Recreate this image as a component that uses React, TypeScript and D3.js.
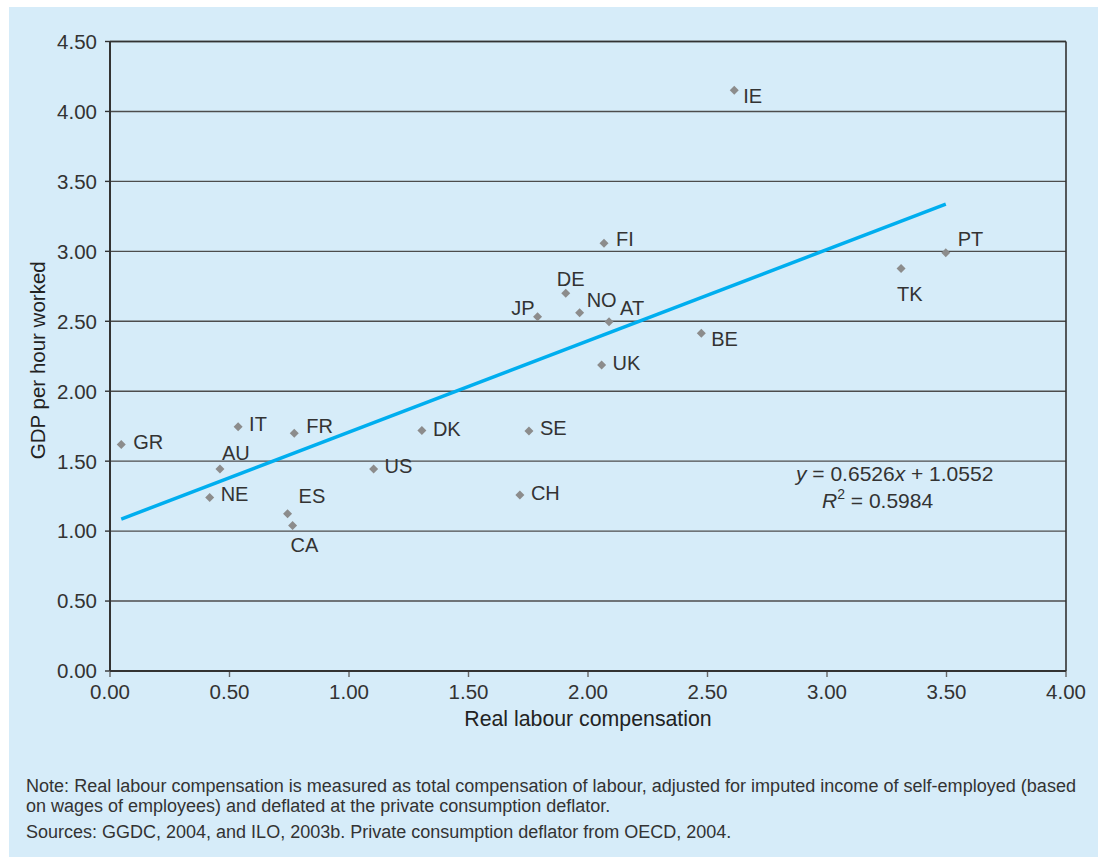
import React from "react";
import * as d3 from "d3";

const countries = ["GR", "IT", "FR", "AU", "NE", "ES", "CA", "US", "DK", "SE", "CH", "JP", "DE", "NO", "AT", "FI", "UK", "BE", "IE", "PT", "TK"];
const labourComp = [0.047, 0.536, 0.771, 0.46, 0.417, 0.743, 0.764, 1.103, 1.305, 1.753, 1.715, 1.789, 1.907, 1.965, 2.088, 2.067, 2.057, 2.474, 2.612, 3.497, 3.31];
const gdpPerHour = [1.62, 1.746, 1.699, 1.444, 1.241, 1.124, 1.041, 1.444, 1.72, 1.715, 1.258, 2.533, 2.7, 2.561, 2.497, 3.057, 2.187, 2.414, 4.151, 2.99, 2.878];
const xTicks = [0, 0.5, 1, 1.5, 2, 2.5, 3, 3.5, 4];
const yTicks = [0, 0.5, 1, 1.5, 2, 2.5, 3, 3.5, 4, 4.5];
const slope = 0.6526;
const intercept = 1.0552;

// label placement (dx, dy, anchor) relative to marker
const labelPlacement: Record<string, [number, number, string]> = {
  GR: [12, -3, "start"], IT: [11, -3, "start"], FR: [12, -8, "start"], AU: [2, -16, "start"],
  NE: [11, -4, "start"], ES: [11, -18, "start"], CA: [-2, 19, "start"], US: [11, -3, "start"],
  DK: [11, -2, "start"], SE: [11, -3, "start"], CH: [11, -2, "start"], JP: [-3, -9, "end"],
  DE: [-9, -15, "start"], NO: [7, -13, "start"], AT: [11, -14, "start"], FI: [12, -5, "start"],
  UK: [11, -2, "start"], BE: [10, 5, "start"], IE: [9, 5, "start"], PT: [12, -14, "start"],
  TK: [-4, 25, "start"],
};

const W = 1098, H = 857;
const FONT = "'Liberation Sans', Arial, Helvetica, sans-serif";

export default function App() {
  const x = d3.scaleLinear().domain([0, 4]).range([110, 1066]);
  const y = d3.scaleLinear().domain([0, 4.5]).range([671, 41.5]);
  const xmin = d3.min(labourComp) as number;
  const xmax = d3.max(labourComp) as number;
  const line = d3.line<number>().x((d) => x(d)).y((d) => y(slope * d + intercept));
  const diamond = (cx: number, cy: number, r: number) => `M${cx},${cy - r}L${cx + r},${cy}L${cx},${cy + r}L${cx - r},${cy}Z`;
  const fmt = d3.format(".2f");
  const textCol = "#333";

  return (
    <svg width={W} height={H} style={{ position: "absolute", left: 0, top: 0 }} fontFamily={FONT}>
      <rect x={9} y={7} width={W - 9} height={H - 7} fill="#d6ecf9" />
      {/* grid lines */}
      {yTicks.map((t) => (
        <g key={"y" + t}>
          <line x1={x(0)} x2={x(4)} y1={y(t)} y2={y(t)} stroke="#4d4d4d" strokeWidth={1.4} />
          <line x1={x(0) - 5} x2={x(0)} y1={y(t)} y2={y(t)} stroke="#333" strokeWidth={1.4} />
          <text x={97} y={y(t)} dy="0.36em" textAnchor="end" fontSize={20.5} fill={textCol}>{fmt(t)}</text>
        </g>
      ))}
      {xTicks.map((t) => (
        <g key={"x" + t}>
          <line x1={x(t)} x2={x(t)} y1={y(0)} y2={y(0) + 6} stroke="#666" strokeWidth={1.4} />
          <text x={x(t)} y={699} textAnchor="middle" fontSize={20.5} fill={textCol}>{fmt(t)}</text>
        </g>
      ))}
      {/* frame */}
      <line x1={x(0)} x2={x(0)} y1={y(4.5)} y2={y(0)} stroke="#333" strokeWidth={2} />
      <line x1={x(4)} x2={x(4)} y1={y(4.5)} y2={y(0)} stroke="#333" strokeWidth={1.6} />
      <line x1={x(0)} x2={x(4)} y1={y(0)} y2={y(0)} stroke="#333" strokeWidth={2} />
      <line x1={x(0)} x2={x(4)} y1={y(4.5)} y2={y(4.5)} stroke="#333" strokeWidth={1.6} />
      {/* trend line */}
      <path d={line([xmin, xmax]) || ""} fill="none" stroke="#00aeef" strokeWidth={3.5} />
      {/* points */}
      {countries.map((c, i) => {
        const px = x(labourComp[i]);
        const py = y(gdpPerHour[i]);
        const [dx, dy, anchor] = labelPlacement[c];
        return (
          <g key={c}>
            <path d={diamond(px, py, 4.5)} fill="#8c8c8c" />
            <text x={px + dx} y={py + dy} dy="0.36em" textAnchor={anchor} fontSize={20} fill={textCol}>{c}</text>
          </g>
        );
      })}
      {/* equation */}
      <text x={796} y={481} fontSize={21} fill={textCol}>
        <tspan fontStyle="italic">y</tspan> = 0.6526<tspan fontStyle="italic">x</tspan> + 1.0552
      </text>
      <text x={822} y={508} fontSize={21} fill={textCol}>
        <tspan fontStyle="italic">R</tspan><tspan fontSize={14} dy={-9}>2</tspan><tspan dy={9}> = 0.5984</tspan>
      </text>
      {/* axis titles */}
      <text x={588} y={726} textAnchor="middle" fontSize={21.3} fill="#222">Real labour compensation</text>
      <text transform={`translate(45,${(y(0) + y(4.5)) / 2 + 4}) rotate(-90)`} textAnchor="middle" fontSize={20.5} fill="#222">GDP per hour worked</text>
      {/* notes */}
      <text x={26} y={792} fontSize={18} fill={textCol} textLength={1050} lengthAdjust="spacingAndGlyphs">Note: Real labour compensation is measured as total compensation of labour, adjusted for imputed income of self-employed (based</text>
      <text x={26} y={812} fontSize={18} fill={textCol}>on wages of employees) and deflated at the private consumption deflator.</text>
      <text x={26} y={838} fontSize={18} fill={textCol}>Sources: GGDC, 2004, and ILO, 2003b. Private consumption deflator from OECD, 2004.</text>
    </svg>
  );
}
